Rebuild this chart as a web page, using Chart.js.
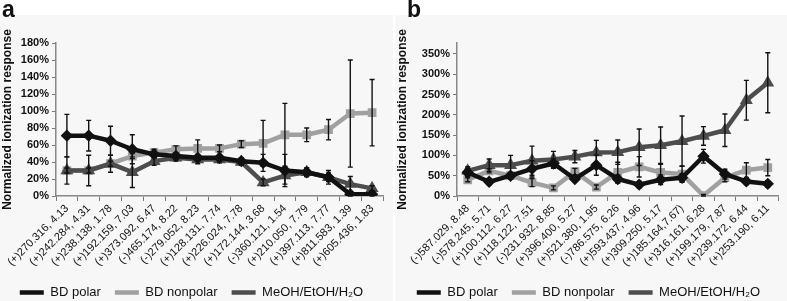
<!DOCTYPE html>
<html>
<head>
<meta charset="utf-8">
<script src="https://cdn.jsdelivr.net/npm/chart.js@4.4.0/dist/chart.umd.min.js"></script>
<style>
  body { margin: 0; width: 787px; height: 301px; position: relative; overflow: hidden; background: #fff; }
  .panel { position: absolute; top: 0; height: 301px; }
  #pa { left: 0; width: 393px; }
  #pb { left: 395px; width: 392px; }
  .tag { position: absolute; top: -4px; font: bold 23px "Liberation Sans", Arial, sans-serif; color: #111; }
</style>
</head>
<body>
<div class="panel" id="pa"><canvas id="chartA" width="393" height="301"></canvas><div class="tag" style="left:2px">a</div></div>
<div class="panel" id="pb"><canvas id="chartB" width="392" height="301"></canvas><div class="tag" style="left:12px">b</div></div>
<script>
// panel a
const labelsA = ['(+)270.316, 4.13', '(+)242.284, 4.31', '(+)238.138, 1.78', '(+)192.159, 7.03', '(+)373.092, 6.47',
  '(-)465.174, 8.22', '(-)279.052, 8.23', '(+)128.131, 7.74', '(+)226.024, 7.78', '(+)172.144, 3.68',
  '(-)360.121, 1.54', '(+)210.050, 7.79', '(+)397.113, 7.77', '(+)811.583, 1.39', '(+)605.436, 1.83'];
const polarA = [71, 71, 65, 55, 49, 47, 45, 45, 41, 39, 30, 28, 22, 2, 2];
const polarErrA = [25, 18, 17, 17, 4, 4, 4, 4, 4, 10, 19, 5, 5, 3, 3];
const nonpolarA = [30, 30, 38, 47, 51, 55, 56, 56, 61, 62, 72, 72, 78, 97, 98];
const nonpolarErrA = [3, 3, 3, 3, 4, 4, 10, 4, 4, 27, 37, 8, 12, 63, 39];
const meohA = [30, 30, 38, 28, 41, 45, 43, 43, 40, 16, 24, 28, 22, 14, 9];
const meohErrA = [16, 18, 10, 18, 5, 4, 5, 4, 4, 4, 10, 5, 8, 9, 3];
const yTicksA = [0, 20, 40, 60, 80, 100, 120, 140, 160, 180];

// panel b
const labelsB = ['(-)587.029, 8.48', '(-)578.245, 5.71', '(+)100.112, 6.27', '(+)118.122, 7.51', '(-)231.932, 8.85',
  '(+)396.400, 5.27', '(+)521.380, 1.95', '(-)786.575, 6.26', '(+)593.437, 4.96', '(+)309.250, 5.17',
  '(+)185.164,7.67)', '(+)316.161, 6.28', '(+)199.179, 7.87', '(+)239.172, 6.44', '(+)253.190, 6.11'];
const polarB = [58, 35, 50, 67, 80, 42, 76, 42, 28, 40, 45, 98, 54, 36, 30];
const polarErrB = [10, 8, 8, 20, 12, 5, 25, 10, 8, 12, 10, 17, 12, 8, 8];
const nonpolarB = [40, 62, 50, 33, 20, 60, 22, 58, 72, 58, 54, 1, 45, 64, 70];
const nonpolarErrB = [5, 5, 5, 10, 5, 8, 5, 25, 25, 20, 20, 3, 10, 18, 20];
const meohB = [62, 76, 76, 87, 90, 97, 107, 108, 120, 125, 135, 148, 162, 236, 279];
const meohErrB = [10, 15, 24, 36, 20, 15, 30, 30, 45, 45, 62, 23, 40, 49, 74];
const yTicksB = [0, 50, 100, 150, 200, 250, 300, 350];

const seriesNames = ['BD polar', 'BD nonpolar', 'MeOH/EtOH/H\u2082O'];
const axisTitle = 'Normalized ionization response';

Chart.defaults.font.family = '"Liberation Sans", Arial, sans-serif';
Chart.defaults.color = '#111';

// light grey page behind the plot like the source figure
const backdrop = {
  id: 'backdrop',
  beforeDraw(chart) {
    const c = chart.ctx;
    c.save();
    c.fillStyle = '#f7f7f7';
    c.fillRect(0, 15, chart.width, chart.height - 15);
    c.restore();
  }
};

// vertical error bars from the err arrays
const errorBars = {
  id: 'errorBars',
  afterDatasetsDraw(chart) {
    const c = chart.ctx, y = chart.scales.y, area = chart.chartArea;
    c.save();
    c.strokeStyle = '#111';
    c.lineWidth = 1.4;
    chart.data.datasets.forEach((ds, i) => {
      chart.getDatasetMeta(i).data.forEach((pt, j) => {
        const v = ds.data[j], e = ds.errors[j];
        const top = y.getPixelForValue(v + e);
        const bot = Math.min(y.getPixelForValue(v - e), area.bottom);
        c.beginPath();
        c.moveTo(pt.x, top); c.lineTo(pt.x, bot);
        c.moveTo(pt.x - 2.5, top); c.lineTo(pt.x + 2.5, top);
        c.moveTo(pt.x - 2.5, bot); c.lineTo(pt.x + 2.5, bot);
        c.stroke();
      });
    });
    c.restore();
  }
};

function makeDatasets(polar, polarErr, nonpolar, nonpolarErr, meoh, meohErr) {
  const common = { borderWidth: 4.5, tension: 0, borderJoinStyle: 'round', borderCapStyle: 'round' };
  // order: polar on top, then MeOH, nonpolar underneath
  return [
    { ...common, label: seriesNames[0], data: polar, errors: polarErr, borderColor: '#111', backgroundColor: '#111',
      pointStyle: 'rectRot', pointRadius: 3, order: 0 },
    { ...common, label: seriesNames[1], data: nonpolar, errors: nonpolarErr, borderColor: '#a0a0a0', backgroundColor: '#a0a0a0',
      pointStyle: 'rect', pointRadius: 3, order: 2 },
    { ...common, label: seriesNames[2], data: meoh, errors: meohErr, borderColor: '#4d4d4d', backgroundColor: '#4d4d4d',
      pointStyle: 'triangle', pointRadius: 3, order: 1 }
  ];
}

function makeChart(id, labels, datasets, yMax, yTicks, yWidth, padRight) {
  return new Chart(document.getElementById(id), {
    type: 'line',
    data: { labels: labels, datasets: datasets },
    plugins: [backdrop, errorBars],
    options: {
      responsive: false,
      animation: false,
      layout: { padding: { top: 43, right: padRight, left: 0, bottom: -8 } },
      plugins: {
        tooltip: { enabled: false },
        legend: {
          position: 'bottom',
          labels: { usePointStyle: true, pointStyle: 'line', pointStyleWidth: 24, padding: 14,
            font: { size: 13 }, color: '#111', sort: (a, b) => a.datasetIndex - b.datasetIndex }
        }
      },
      scales: {
        x: {
          offset: true,
          grid: { display: true, drawOnChartArea: false, tickLength: 5, color: '#777', offset: true },
          border: { color: '#888', width: 1.5 },
          ticks: { minRotation: 45, maxRotation: 45, autoSkip: false, padding: 1, font: { size: 11 }, color: '#111' },
          afterFit: s => { s.height = 76; }
        },
        y: {
          min: 0, max: yMax,
          grid: { display: true, drawOnChartArea: false, tickLength: 4, color: '#777' },
          border: { color: '#888', width: 1.5 },
          ticks: { padding: 3, font: { size: 11, weight: 'bold' }, color: '#111', callback: v => v + '%' },
          afterBuildTicks: s => { s.ticks = yTicks.map(v => ({ value: v })); },
          title: { display: true, text: axisTitle, padding: 0, font: { size: 12, weight: 'bold' }, color: '#111' },
          afterFit: s => { s.width = yWidth; }
        }
      }
    }
  });
}

makeChart('chartA', labelsA, makeDatasets(polarA, polarErrA, nonpolarA, nonpolarErrA, meohA, meohErrA), 180, yTicksA, 56, 10);
makeChart('chartB', labelsB, makeDatasets(polarB, polarErrB, nonpolarB, nonpolarErrB, meohB, meohErrB), 377, yTicksB, 62, 5);
</script>
</body>
</html>
